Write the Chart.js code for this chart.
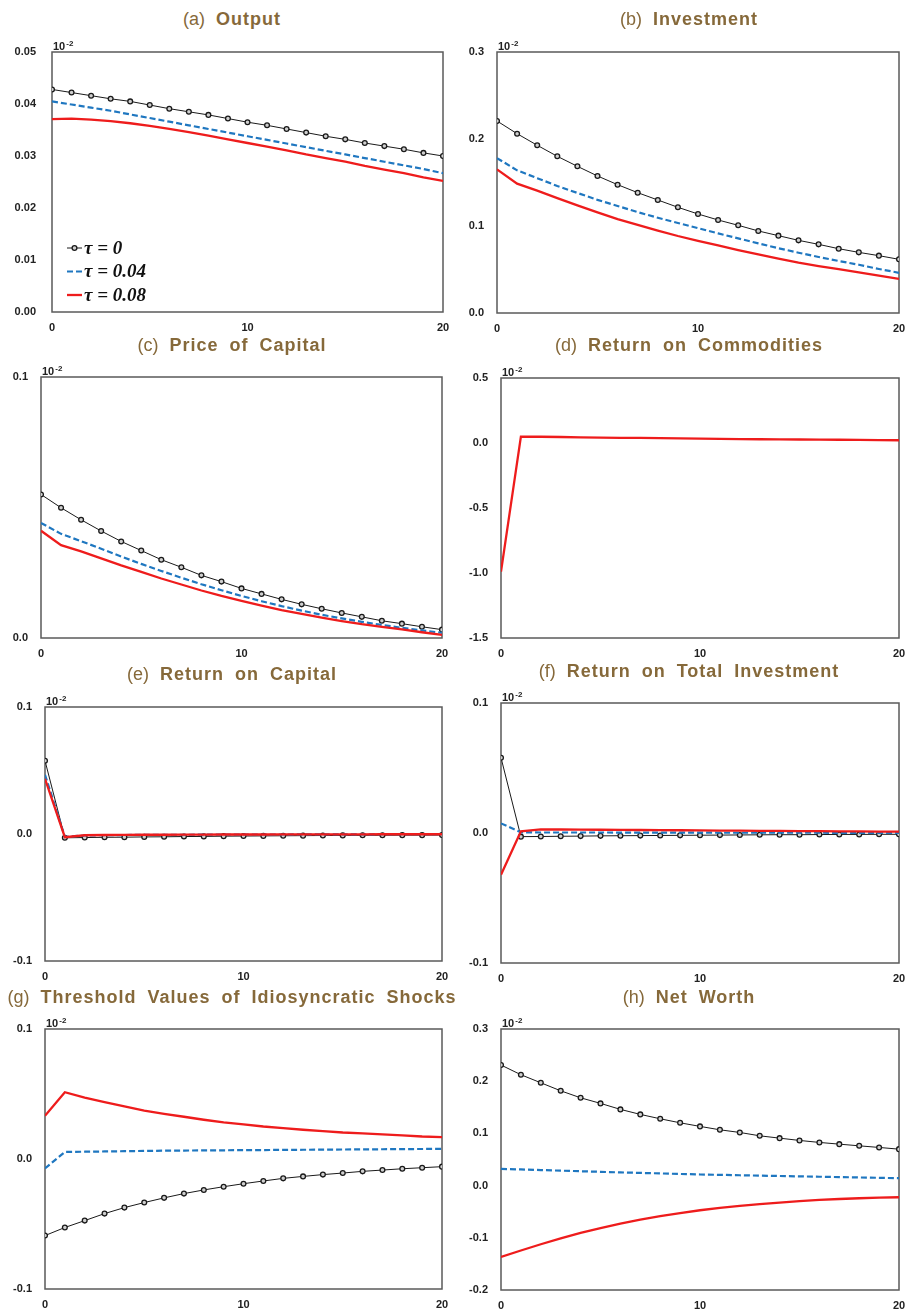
<!DOCTYPE html>
<html>
<head>
<meta charset="utf-8">
<script src="https://cdn.jsdelivr.net/npm/chart.js@4.4.1/dist/chart.umd.min.js"></script>
<style>
  html, body { margin: 0; padding: 0; background: #fff; }
  body { position: relative; width: 908px; height: 1310px; overflow: hidden; }
  .title {
    position: absolute; width: 454px; text-align: center; white-space: nowrap;
    font-family: 'Liberation Sans', Arial, sans-serif; font-size: 18px; font-weight: bold;
    color: #86693a; letter-spacing: 1px; word-spacing: 5px; line-height: 20px;
  }
  .title span { font-weight: normal; letter-spacing: 0; }
  canvas { position: absolute; }
</style>
</head>
<body>
<script>
// Horizonte (trimestres) e rótulos
const PERIODS = [0, 1, 2, 3, 4, 5, 6, 7, 8, 9, 10, 11, 12, 13, 14, 15, 16, 17, 18, 19, 20];
const X_TICKS = [0, 10, 20];
const TAU_LABELS = ['τ = 0', 'τ = 0.04', 'τ = 0.08'];

// (a) Output
const OUTPUT_TICKS = [0, 0.01, 0.02, 0.03, 0.04, 0.05];
const OUTPUT_TAU0 = [0.0428, 0.0422, 0.0416, 0.0410, 0.0405, 0.0398, 0.0391, 0.0385, 0.0379, 0.0372, 0.0365, 0.0359, 0.0352, 0.0345, 0.0338, 0.0332, 0.0325, 0.0319, 0.0313, 0.0306, 0.0300];
const OUTPUT_TAU004 = [0.0405, 0.0399, 0.0393, 0.0387, 0.0380, 0.0373, 0.0366, 0.0359, 0.0352, 0.0345, 0.0338, 0.0331, 0.0324, 0.0317, 0.0310, 0.0303, 0.0296, 0.0289, 0.0282, 0.0275, 0.0267];
const OUTPUT_TAU008 = [0.0371, 0.0372, 0.0370, 0.0367, 0.0363, 0.0358, 0.0352, 0.0346, 0.0339, 0.0332, 0.0325, 0.0318, 0.0311, 0.0303, 0.0296, 0.0289, 0.0281, 0.0274, 0.0267, 0.0259, 0.0252];

// (b) Investment
const INVEST_TICKS = [0, 0.1, 0.2, 0.3];
const INVEST_TAU0 = [0.2207, 0.2061, 0.1928, 0.1801, 0.1686, 0.1575, 0.1475, 0.1383, 0.1299, 0.1215, 0.1138, 0.1069, 0.1008, 0.0943, 0.0889, 0.0835, 0.0789, 0.0739, 0.0697, 0.0659, 0.0617];
const INVEST_TAU004 = [0.1780, 0.1640, 0.1550, 0.1460, 0.1380, 0.1300, 0.1230, 0.1160, 0.1095, 0.1035, 0.0975, 0.0915, 0.0858, 0.0800, 0.0745, 0.0693, 0.0644, 0.0598, 0.0555, 0.0506, 0.0462];
const INVEST_TAU008 = [0.1651, 0.1487, 0.1406, 0.1320, 0.1238, 0.1157, 0.1080, 0.1012, 0.0947, 0.0885, 0.0830, 0.0776, 0.0724, 0.0674, 0.0625, 0.0579, 0.0540, 0.0503, 0.0468, 0.0429, 0.0391];

// (c) Price of Capital
const PRICE_TICKS = [0, 0.1];
const PRICE_TAU0 = [0.0550, 0.0499, 0.0453, 0.0410, 0.0370, 0.0335, 0.0300, 0.0271, 0.0240, 0.0216, 0.0190, 0.0169, 0.0148, 0.0129, 0.0112, 0.0096, 0.0081, 0.0066, 0.0055, 0.0043, 0.0032];
const PRICE_TAU004 = [0.0441, 0.0399, 0.0371, 0.0342, 0.0312, 0.0284, 0.0257, 0.0231, 0.0206, 0.0183, 0.0161, 0.0141, 0.0122, 0.0105, 0.0089, 0.0075, 0.0062, 0.0050, 0.0039, 0.0029, 0.0020];
const PRICE_TAU008 = [0.0411, 0.0356, 0.0332, 0.0305, 0.0278, 0.0253, 0.0228, 0.0205, 0.0182, 0.0161, 0.0142, 0.0124, 0.0107, 0.0092, 0.0078, 0.0065, 0.0053, 0.0043, 0.0033, 0.0022, 0.0012];

// (d) Return on Commodities
const COMMOD_TICKS = [-1.5, -1.0, -0.5, 0, 0.5];
const COMMOD_TAU008 = [-0.99, 0.049, 0.048, 0.046, 0.044, 0.042, 0.040, 0.039, 0.037, 0.035, 0.033, 0.032, 0.030, 0.029, 0.028, 0.027, 0.026, 0.025, 0.024, 0.022, 0.021];

// (e) Return on Capital
const CAPRET_TICKS = [-0.1, 0, 0.1];
const CAPRET_TAU0 = [0.0577, -0.0030, -0.0028, -0.0026, -0.0025, -0.0023, -0.0022, -0.0020, -0.0019, -0.0017, -0.0016, -0.0015, -0.0014, -0.0013, -0.0012, -0.0011, -0.0010, -0.0010, -0.0009, -0.0009, -0.0008];
const CAPRET_TAU004 = [0.0466, -0.0022, -0.0012, -0.0009, -0.0008, -0.0007, -0.0006, -0.0006, -0.0005, -0.0005, -0.0004, -0.0004, -0.0004, -0.0003, -0.0003, -0.0003, -0.0003, -0.0002, -0.0002, -0.0002, -0.0002];
const CAPRET_TAU008 = [0.0435, -0.0025, -0.0010, -0.0008, -0.0007, -0.0006, -0.0006, -0.0005, -0.0005, -0.0004, -0.0004, -0.0004, -0.0003, -0.0003, -0.0003, -0.0003, -0.0003, -0.0002, -0.0002, -0.0002, -0.0002];

// (f) Return on Total Investment
const TOTRET_TICKS = [-0.1, 0, 0.1];
const TOTRET_TAU0 = [0.0579, -0.0028, -0.0027, -0.0025, -0.0024, -0.0022, -0.0021, -0.0020, -0.0019, -0.0018, -0.0017, -0.0016, -0.0015, -0.0014, -0.0013, -0.0013, -0.0012, -0.0011, -0.0011, -0.0010, -0.0010];
const TOTRET_TAU004 = [0.0074, 0.0005, 0.0004, 0.0004, 0.0004, 0.0004, 0.0003, 0.0003, 0.0003, 0.0003, 0.0003, 0.0002, 0.0002, 0.0002, 0.0002, 0.0002, 0.0002, 0.0001, 0.0001, 0.0001, 0.0001];
const TOTRET_TAU008 = [-0.0321, 0.0013, 0.0028, 0.0027, 0.0026, 0.0025, 0.0024, 0.0023, 0.0022, 0.0021, 0.0020, 0.0019, 0.0018, 0.0017, 0.0016, 0.0015, 0.0014, 0.0013, 0.0012, 0.0011, 0.0010];

// (g) Threshold Values of Idiosyncratic Shocks
const THRESH_TICKS = [-0.1, 0, 0.1];
const THRESH_TAU0 = [-0.0589, -0.0527, -0.0474, -0.0420, -0.0374, -0.0335, -0.0299, -0.0266, -0.0238, -0.0213, -0.0190, -0.0169, -0.0149, -0.0134, -0.0120, -0.0108, -0.0095, -0.0085, -0.0075, -0.0067, -0.0059];
const THRESH_TAU004 = [-0.0072, 0.0054, 0.0056, 0.0058, 0.0060, 0.0062, 0.0064, 0.0065, 0.0066, 0.0067, 0.0068, 0.0069, 0.0070, 0.0071, 0.0072, 0.0073, 0.0074, 0.0075, 0.0076, 0.0077, 0.0078];
const THRESH_TAU008 = [0.0332, 0.0514, 0.0473, 0.0438, 0.0404, 0.0373, 0.0348, 0.0325, 0.0302, 0.0281, 0.0266, 0.0250, 0.0238, 0.0225, 0.0215, 0.0204, 0.0197, 0.0189, 0.0181, 0.0173, 0.0169];

// (h) Net Worth
const NW_TICKS = [-0.2, -0.1, 0, 0.1, 0.2, 0.3];
const NW_TAU0 = [0.2310, 0.2124, 0.1970, 0.1816, 0.1682, 0.1575, 0.1460, 0.1364, 0.1280, 0.1203, 0.1134, 0.1069, 0.1018, 0.0954, 0.0909, 0.0865, 0.0827, 0.0794, 0.0762, 0.0731, 0.0698];
const NW_TAU004 = [0.0321, 0.0309, 0.0298, 0.0286, 0.0275, 0.0264, 0.0253, 0.0243, 0.0233, 0.0223, 0.0213, 0.0206, 0.0198, 0.0191, 0.0184, 0.0177, 0.0170, 0.0163, 0.0156, 0.0149, 0.0142];
const NW_TAU008 = [-0.1367, -0.1243, -0.1124, -0.1013, -0.0907, -0.0814, -0.0727, -0.0654, -0.0587, -0.0527, -0.0472, -0.0428, -0.0389, -0.0355, -0.0325, -0.0298, -0.0274, -0.0257, -0.0242, -0.0232, -0.0223];

// Estilos das três curvas (preto com círculos, azul tracejado, vermelho)
const SERIES_STYLES = [
    { borderColor: '#1a1a1a', borderWidth: 1, pointRadius: 2.4, pointBorderWidth: 1.3,
      pointBorderColor: '#1a1a1a', pointBackgroundColor: '#cfcfcf', order: 3 },
    { borderColor: '#1f77c0', borderWidth: 2.2, borderDash: [6, 3], pointRadius: 0, order: 2 },
    { borderColor: '#ee1c1c', borderWidth: 2.3, pointRadius: 0, order: 1 }
];

const FONT = '"Liberation Sans", Arial, sans-serif';

// Moldura + marcador de escala 10^-2
const framePlugin = {
    id: 'frame',
    beforeDatasetsDraw: (chart) => {
        const { ctx, chartArea: { left, top, width, height } } = chart;
        ctx.save();
        ctx.strokeStyle = '#5a5a5a';
        ctx.lineWidth = 1.5;
        ctx.strokeRect(left, top, width, height);
        ctx.fillStyle = '#222';
        ctx.textBaseline = 'alphabetic';
        ctx.font = 'bold 11px ' + FONT;
        ctx.fillText('10', left + 1, top - 2);
        const w = ctx.measureText('10').width;
        ctx.font = 'bold 8px ' + FONT;
        ctx.fillText('-2', left + 2 + w, top - 6);
        ctx.restore();
    }
};

// Legenda dentro da área do gráfico (só no painel a)
const insideLegend = {
    id: 'insideLegend',
    afterDatasetsDraw: (chart, args, opts) => {
        if (!opts.show) return;
        const { ctx, chartArea: { left, bottom } } = chart;
        ctx.save();
        ctx.textBaseline = 'middle';
        chart.data.datasets.forEach((ds, i) => {
            const y = bottom - 64 + i * 23.5;
            const x0 = left + 15, x1 = left + 30;
            ctx.strokeStyle = ds.borderColor;
            ctx.lineWidth = ds.borderWidth;
            ctx.setLineDash(ds.borderDash || []);
            ctx.beginPath();
            ctx.moveTo(x0, y);
            ctx.lineTo(x1, y);
            ctx.stroke();
            ctx.setLineDash([]);
            if (ds.pointRadius) {
                ctx.beginPath();
                ctx.arc((x0 + x1) / 2, y, ds.pointRadius, 0, Math.PI * 2);
                ctx.fillStyle = ds.pointBackgroundColor;
                ctx.fill();
                ctx.lineWidth = ds.pointBorderWidth;
                ctx.stroke();
            }
            ctx.fillStyle = '#111';
            ctx.font = 'italic bold 19px "Liberation Serif", "Times New Roman", serif';
            ctx.fillText(ds.label, x1 + 2, y + 1);
        });
        ctx.restore();
    }
};

const PANELS = [
    { tag: '(a)', title: 'Output', box: [52, 52, 443, 312], titleY: 19, ticks: OUTPUT_TICKS, digits: 2, pad: 16,
      series: [OUTPUT_TAU0, OUTPUT_TAU004, OUTPUT_TAU008], legend: true },
    { tag: '(b)', title: 'Investment', box: [497, 52, 899, 313], titleY: 19, ticks: INVEST_TICKS, digits: 1, pad: 13,
      series: [INVEST_TAU0, INVEST_TAU004, INVEST_TAU008] },
    { tag: '(c)', title: 'Price of Capital', box: [41, 377, 442, 638], titleY: 345, ticks: PRICE_TICKS, digits: 1, pad: 13,
      series: [PRICE_TAU0, PRICE_TAU004, PRICE_TAU008] },
    { tag: '(d)', title: 'Return on Commodities', box: [501, 378, 899, 638], titleY: 345, ticks: COMMOD_TICKS, digits: 1, pad: 13,
      series: [null, null, COMMOD_TAU008] },
    { tag: '(e)', title: 'Return on Capital', box: [45, 707, 442, 961], titleY: 674, ticks: CAPRET_TICKS, digits: 1, pad: 13,
      series: [CAPRET_TAU0, CAPRET_TAU004, CAPRET_TAU008] },
    { tag: '(f)', title: 'Return on Total Investment', box: [501, 703, 899, 963], titleY: 671, ticks: TOTRET_TICKS, digits: 1, pad: 13,
      series: [TOTRET_TAU0, TOTRET_TAU004, TOTRET_TAU008] },
    { tag: '(g)', title: 'Threshold Values of Idiosyncratic Shocks', box: [45, 1029, 442, 1289], titleY: 997, ticks: THRESH_TICKS, digits: 1, pad: 13,
      series: [THRESH_TAU0, THRESH_TAU004, THRESH_TAU008] },
    { tag: '(h)', title: 'Net Worth', box: [501, 1029, 899, 1290], titleY: 997, ticks: NW_TICKS, digits: 1, pad: 13,
      series: [NW_TAU0, NW_TAU004, NW_TAU008] }
];

const PAD_TOP = 24;
const X_AXIS_H = 26;
const CANVAS_W = 474;

function createPanel(p) {
    const [l, t, r, b] = p.box;
    const colX = l < 454 ? 0 : 454;

    const title = document.createElement('div');
    title.className = 'title';
    title.style.left = (colX + (colX ? 8 : 5)) + 'px';
    title.style.top = (p.titleY - 10) + 'px';
    title.innerHTML = '<span>' + p.tag + '</span> ' + p.title;
    document.body.appendChild(title);

    const canvas = document.createElement('canvas');
    canvas.width = CANVAS_W;
    canvas.height = (b - t) + PAD_TOP + X_AXIS_H;
    canvas.style.left = colX + 'px';
    canvas.style.top = (t - PAD_TOP) + 'px';
    document.body.appendChild(canvas);

    const datasets = [];
    p.series.forEach((values, i) => {
        if (!values) return;
        datasets.push({
            label: TAU_LABELS[i],
            data: values.map((y, k) => ({ x: PERIODS[k], y })),
            tension: 0,
            fill: false,
            ...SERIES_STYLES[i]
        });
    });

    const tickFont = { family: FONT, size: 11, weight: 'bold' };

    const chart = new Chart(canvas.getContext('2d'), {
        type: 'line',
        data: { datasets },
        options: {
            responsive: false,
            animation: false,
            devicePixelRatio: 1,
            layout: { padding: { left: 0, top: PAD_TOP, right: colX + CANVAS_W - r, bottom: 0 } },
            plugins: {
                legend: { display: false },
                tooltip: { enabled: false },
                insideLegend: { show: !!p.legend }
            },
            scales: {
                x: {
                    type: 'linear',
                    min: PERIODS[0],
                    max: PERIODS[PERIODS.length - 1],
                    afterBuildTicks: (s) => { s.ticks = X_TICKS.map(v => ({ value: v })); },
                    afterFit: (s) => { s.height = X_AXIS_H; },
                    grid: { display: false, drawTicks: false },
                    border: { display: false },
                    ticks: { font: tickFont, color: '#222', padding: 9, maxRotation: 0,
                             callback: (v) => String(v) }
                },
                y: {
                    min: p.ticks[0],
                    max: p.ticks[p.ticks.length - 1],
                    afterBuildTicks: (s) => { s.ticks = p.ticks.map(v => ({ value: v })); },
                    afterFit: (s) => { s.width = l - colX; },
                    grid: { display: false, drawTicks: false },
                    border: { display: false },
                    ticks: { font: tickFont, color: '#222', padding: p.pad,
                             callback: (v) => Number(v).toFixed(p.digits) }
                }
            }
        },
        plugins: [framePlugin, insideLegend]
    });

    // Ajusta a área do gráfico para cair exatamente na caixa desejada
    for (let k = 0; k < 4; k++) {
        const ca = chart.chartArea;
        const dRight = ca.right - (r - colX);
        const dBottom = ca.bottom - (b - t + PAD_TOP);
        if (Math.abs(dRight) < 0.5 && Math.abs(dBottom) < 0.5) break;
        chart.options.layout.padding.right += dRight;
        chart.options.layout.padding.bottom += dBottom;
        chart.update();
    }
    return chart;
}

PANELS.forEach(createPanel);
</script>
</body>
</html>
